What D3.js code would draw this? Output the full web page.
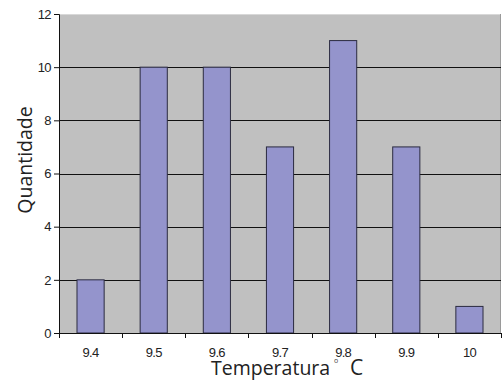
<!DOCTYPE html>
<html>
<head>
<meta charset="utf-8">
<script src="https://cdn.jsdelivr.net/npm/d3@7"></script>
<style>
  html, body { margin: 0; padding: 0; background: #fff; }
</style>
</head>
<body>
<div id="container"></div>
<script>
const width = 503, height = 383;

// --- Data ---
const categories = ["9.4", "9.5", "9.6", "9.7", "9.8", "9.9", "10"];
const counts = [2, 10, 10, 7, 11, 7, 1];
const yTicks = [0, 2, 4, 6, 8, 10, 12];

// --- Layout ---
const margin = { top: 14, right: 2, bottom: 50, left: 59 };
const x0 = margin.left, x1 = width - margin.right;
const y0 = height - margin.bottom, y1 = margin.top;

const svg = d3.select("#container").append("svg")
  .attr("width", width).attr("height", height);

const x = d3.scaleBand().domain(categories).range([x0, x1])
  .paddingInner(0.57).paddingOuter(0.285);
const step = x.step();
const y = d3.scaleLinear().domain([0, 12]).range([y0, y1]);

// --- Plot background ---
svg.append("rect")
  .attr("x", x0).attr("y", y1)
  .attr("width", x1 - x0).attr("height", y0 - y1)
  .attr("fill", "#c0c0c0");
// light top border, darker right border
svg.append("line").attr("x1", x0).attr("x2", x1).attr("y1", y1 + 0.5).attr("y2", y1 + 0.5)
  .attr("stroke", "#d8d8d8");
svg.append("line").attr("x1", x1 - 0.5).attr("x2", x1 - 0.5).attr("y1", y1).attr("y2", y0)
  .attr("stroke", "#9a9a9a");

// --- Gridlines ---
svg.selectAll("line.grid").data(yTicks.filter(d => d > 0 && d < 12)).join("line")
  .attr("class", "grid")
  .attr("x1", x0).attr("x2", x1)
  .attr("y1", d => Math.round(y(d)) + 0.5).attr("y2", d => Math.round(y(d)) + 0.5)
  .attr("stroke", "#111").attr("stroke-width", 1);

// --- Bars ---
svg.selectAll("rect.bar").data(categories).join("rect")
  .attr("class", "bar")
  .attr("x", d => x(d))
  .attr("y", (d, i) => y(counts[i]))
  .attr("width", x.bandwidth())
  .attr("height", (d, i) => y0 - y(counts[i]))
  .attr("fill", "#9494cc")
  .attr("stroke", "#2b2b40").attr("stroke-width", 1);

// --- Y axis ---
const yAxis = svg.append("g")
  .attr("transform", `translate(${x0},0)`)
  .call(d3.axisLeft(y).tickValues(yTicks).tickSize(5).tickPadding(3));
yAxis.select(".domain").attr("stroke", "#111");
yAxis.selectAll("line").attr("stroke", "#111");
yAxis.selectAll("text").attr("fill", "#222")
  .style("font-family", "'Liberation Sans', Arial, sans-serif")
  .style("font-size", "13px").style("letter-spacing", "-0.6px");

// --- X axis: ticks at category boundaries ---
const xg = svg.append("g");
xg.append("line").attr("x1", x0).attr("x2", x1).attr("y1", y0 + 0.5).attr("y2", y0 + 0.5)
  .attr("stroke", "#111");
d3.range(categories.length + 1).forEach(i => {
  const xx = Math.round(x0 + i * step) + 0.5;
  xg.append("line").attr("x1", xx).attr("x2", xx).attr("y1", y0).attr("y2", y0 + 5)
    .attr("stroke", "#111");
});
xg.selectAll("text").data(categories).join("text")
  .attr("x", d => x(d) + x.bandwidth() / 2)
  .attr("y", y0 + 19).attr("dy", "0.35em")
  .attr("text-anchor", "middle").attr("fill", "#222")
  .style("font-family", "'Liberation Sans', Arial, sans-serif")
  .style("font-size", "13px").style("letter-spacing", "-0.7px")
  .text(d => d);

// --- Axis titles ---
svg.append("text")
  .attr("x", 211).attr("y", 375)
  .attr("fill", "#222")
  .style("font-family", "'Open Sans', sans-serif").style("font-size", "19.5px")
  .text("Temperatura");
svg.append("text")
  .attr("x", 334).attr("y", 363)
  .attr("fill", "#444")
  .style("font-family", "'Open Sans', sans-serif").style("font-size", "7px")
  .text("o");
svg.append("text")
  .attr("x", 350).attr("y", 375)
  .attr("fill", "#222")
  .style("font-family", "'Open Sans', sans-serif").style("font-size", "21px")
  .text("C");

svg.append("text")
  .attr("transform", "translate(32,160) rotate(-90)")
  .attr("text-anchor", "middle").attr("fill", "#222")
  .style("font-family", "'Open Sans', sans-serif").style("font-size", "19.5px")
  .text("Quantidade");
</script>
</body>
</html>
